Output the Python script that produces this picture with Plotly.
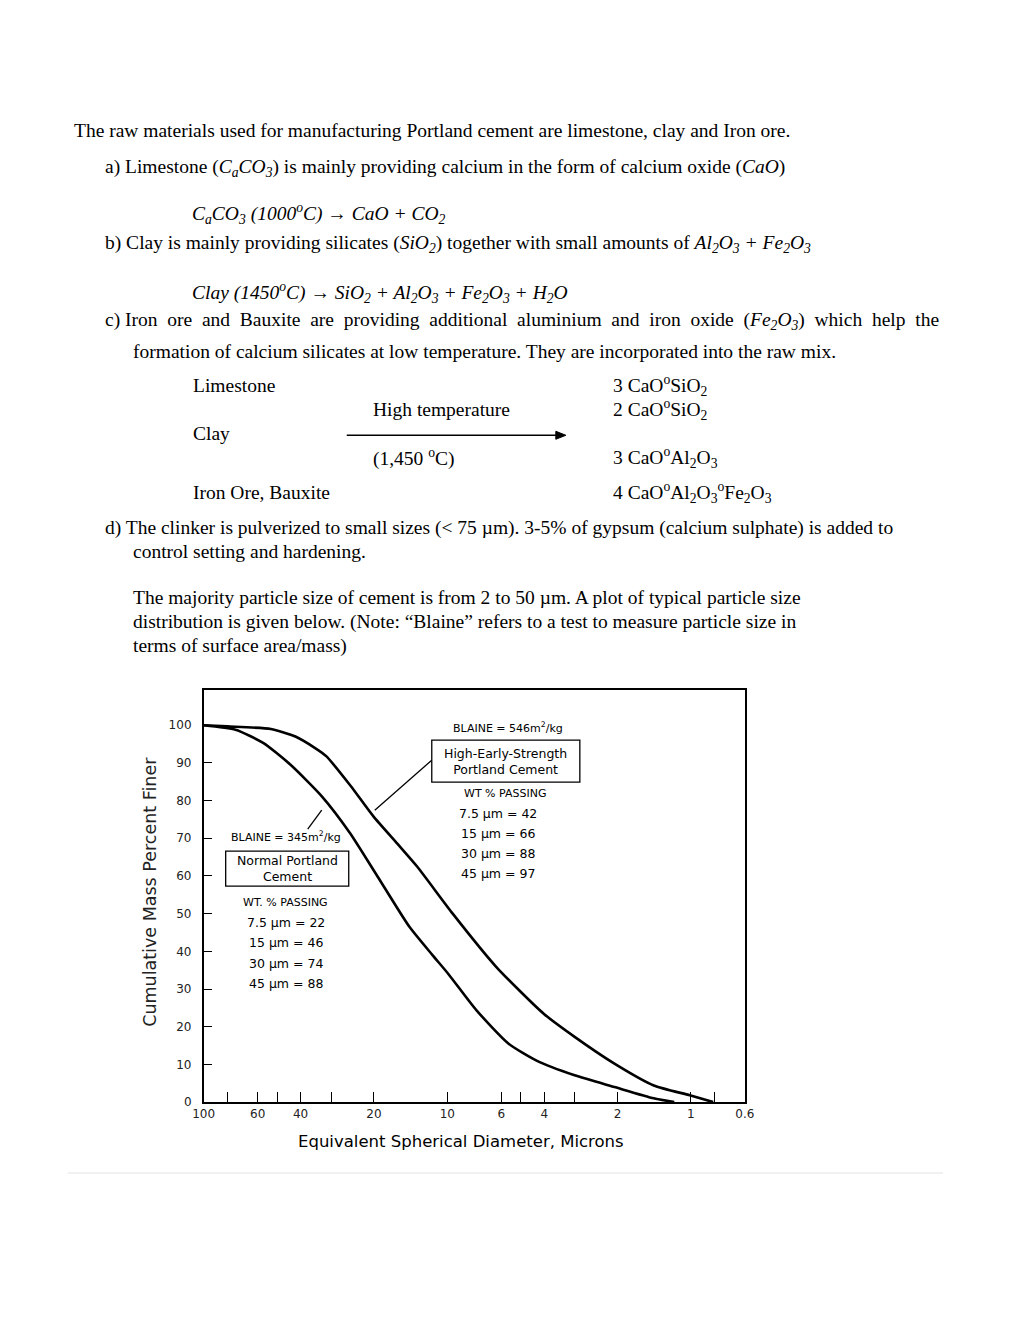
import plotly.graph_objects as go
import math

W, H = 1020, 1320

# Data
hes_d = [100, 80, 53, 42, 35, 31.4, 25, 20.1, 16, 13.3, 9.5, 6.3, 4.03, 3.0, 2.06, 1.42, 1.01, 0.81]
hes_p = [100, 99.7, 99, 97, 94, 91.8, 84, 75.8, 68.5, 62.5, 50, 35.9, 23.5, 17.3, 10.2, 4.4, 1.8, 0]
npc_d = [100, 74, 57, 44, 32.6, 25.1, 19.3, 14.3, 11.5, 9.9, 7.6, 5.6, 4.3, 3.0, 2.06, 1.42, 1.17]
npc_p = [100, 98.8, 95.3, 89.5, 81, 71.4, 59.8, 46.5, 39, 34, 24.4, 15.5, 11, 7.1, 4, 1, 0]
x_tickvals = [100, 80, 60, 50, 40, 30, 20, 10, 6, 5, 4, 3, 2, 1, 0.8, 0.6]
x_ticktext = ["100", "", "60", "", "40", "", "20", "10", "6", "", "4", "", "2", "1", "", "0.6"]
y_tickvals = list(range(0, 101, 10))

def px(x): return ((x - 19.4) / 0.979) / W
def py(y): return 1 - ((y - 7.6) / 0.995) / H

fig = go.Figure()
for d, p in [(hes_d, hes_p), (npc_d, npc_p)]:
    fig.add_trace(go.Scatter(x=d, y=p, mode="lines", line=dict(color="black", width=2.6, shape="spline", smoothing=0.6),
                             showlegend=False, hoverinfo="skip"))

cf = dict(family="DejaVu Sans", color="#222")
fig.update_layout(
    width=W, height=H, margin=dict(l=0, r=0, t=0, b=0), paper_bgcolor="white", plot_bgcolor="white",
    xaxis=dict(type="log", range=[2, math.log10(0.6)], domain=[px(204), px(745)], tickvals=x_tickvals,
               ticktext=x_ticktext, ticks="inside", ticklen=10, tickwidth=1.3, tickcolor="black",
               showline=True, linecolor="black", linewidth=1.5, mirror=True, showgrid=False, zeroline=False,
               tickfont=dict(size=12, **cf)),
    yaxis=dict(range=[0, 109.3], domain=[py(1102), py(690)], tickvals=y_tickvals, ticks="inside", ticklen=9,
               tickwidth=1.3, tickcolor="black", showline=True, linecolor="black", linewidth=1.5, mirror=True,
               showgrid=False, zeroline=False, tickfont=dict(size=12, **cf), ticklabelstandoff=8),
)

ann = []
def T(x, y, s, size=19.5, xa="left", fam="Liberation Serif", col="black"):
    ann.append(dict(x=px(x), y=py(y), xref="paper", yref="paper", text=s, showarrow=False, xanchor=xa,
                    yanchor="middle", font=dict(family=fam, size=size, color=col)))

T(72, 130, "The raw materials used for manufacturing Portland cement are limestone, clay and Iron ore.")
T(103, 168, "a) Limestone (<i>C<sub>a</sub>CO<sub>3</sub></i>) is mainly providing calcium in the form of calcium oxide (<i>CaO</i>)")
T(190, 213, "<i>C<sub>a</sub>CO<sub>3</sub> (1000<sup>o</sup>C)</i> → <i>CaO + CO<sub>2</sub></i>")
T(103, 244, "b) Clay is mainly providing silicates (<i>SiO<sub>2</sub></i>) together with small amounts of <i>Al<sub>2</sub>O<sub>3</sub> + Fe<sub>2</sub>O<sub>3</sub></i>")
T(190, 292, "<i>Clay (1450<sup>o</sup>C)</i> → <i>SiO<sub>2</sub> + Al<sub>2</sub>O<sub>3</sub> + Fe<sub>2</sub>O<sub>3</sub> + H<sub>2</sub>O</i>")
T(103, 321, "c) Iron  ore  and  Bauxite  are  providing  additional  aluminium  and  iron  oxide  (<i>Fe<sub>2</sub>O<sub>3</sub></i>)  which  help  the")
T(131, 351, "formation of calcium silicates at low temperature. They are incorporated into the raw mix.")
T(191, 385, "Limestone")
T(611, 385, "3 CaO<sup>o</sup>SiO<sub>2</sub>")
T(371, 409, "High temperature")
T(611, 409, "2 CaO<sup>o</sup>SiO<sub>2</sub>")
T(191, 433, "Clay")
T(371, 457, "(1,450 <sup>o</sup>C)")
T(611, 457, "3 CaO<sup>o</sup>Al<sub>2</sub>O<sub>3</sub>")
T(191, 492, "Iron Ore, Bauxite")
T(611, 492, "4 CaO<sup>o</sup>Al<sub>2</sub>O<sub>3</sub><sup>o</sup>Fe<sub>2</sub>O<sub>3</sub>")
T(103, 528, "d) The clinker is pulverized to small sizes (< 75 µm). 3-5% of gypsum (calcium sulphate) is added to")
T(131, 551, "control setting and hardening.")
T(131, 597, "The majority particle size of cement is from 2 to 50 µm. A plot of typical particle size")
T(131, 622, "distribution is given below. (Note: “Blaine” refers to a test to measure particle size in")
T(131, 646, "terms of surface area/mass)")

sf = "DejaVu Sans"
T(508, 727, "BLAINE = 546m<sup>2</sup>/kg", 11, "center", sf)
T(506, 761, "High-Early-Strength<br>Portland Cement", 12.5, "center", sf)
T(505, 793, "WT % PASSING", 11, "center", sf)
for i, s in enumerate(["7.5 µm = 42", "15 µm = 66", "30 µm = 88", "45 µm = 97"]):
    T(498, 813 + 20 * i, s, 12.5, "center", sf)
T(286, 836, "BLAINE = 345m<sup>2</sup>/kg", 11, "center", sf)
T(288, 868, "Normal Portland<br>Cement", 12.5, "center", sf)
T(286, 902, "WT. % PASSING", 11, "center", sf)
for i, s in enumerate(["7.5 µm = 22", "15 µm = 46", "30 µm = 74", "45 µm = 88"]):
    T(286, 922 + 20.5 * i, s, 12.5, "center", sf)
T(461, 1141, "Equivalent Spherical Diameter, Microns", 16.5, "center", sf)
ann.append(dict(x=px(150), y=py(892), xref="paper", yref="paper", text="Cumulative Mass Percent Finer",
                showarrow=False, textangle=-90, xanchor="center", yanchor="middle",
                font=dict(family=sf, size=17.5, color="#222")))
fig.update_layout(annotations=ann)

shapes = []
def L(x0, y0, x1, y1, w=1.3, c="black"):
    shapes.append(dict(type="line", xref="paper", yref="paper", x0=px(x0), y0=py(y0), x1=px(x1), y1=py(y1),
                       line=dict(color=c, width=w)))
def R(x0, y0, x1, y1):
    shapes.append(dict(type="rect", xref="paper", yref="paper", x0=px(x0), y0=py(y0), x1=px(x1), y1=py(y1),
                       line=dict(color="black", width=1.3), fillcolor="rgba(0,0,0,0)"))
L(347, 435, 558, 435)
shapes.append(dict(type="path", xref="paper", yref="paper",
                   path=f"M {px(556)} {py(431)} L {px(566)} {py(435)} L {px(556)} {py(439)} Z",
                   fillcolor="black", line=dict(color="black", width=1)))
R(432, 740, 580, 782)
R(226, 851, 349, 886)
L(432, 760, 375, 810)
L(322, 810, 308, 829)
L(68, 1173, 943, 1173, 1, "#e3e3e3")
fig.update_layout(shapes=shapes)

fig.write_html("out.html")
